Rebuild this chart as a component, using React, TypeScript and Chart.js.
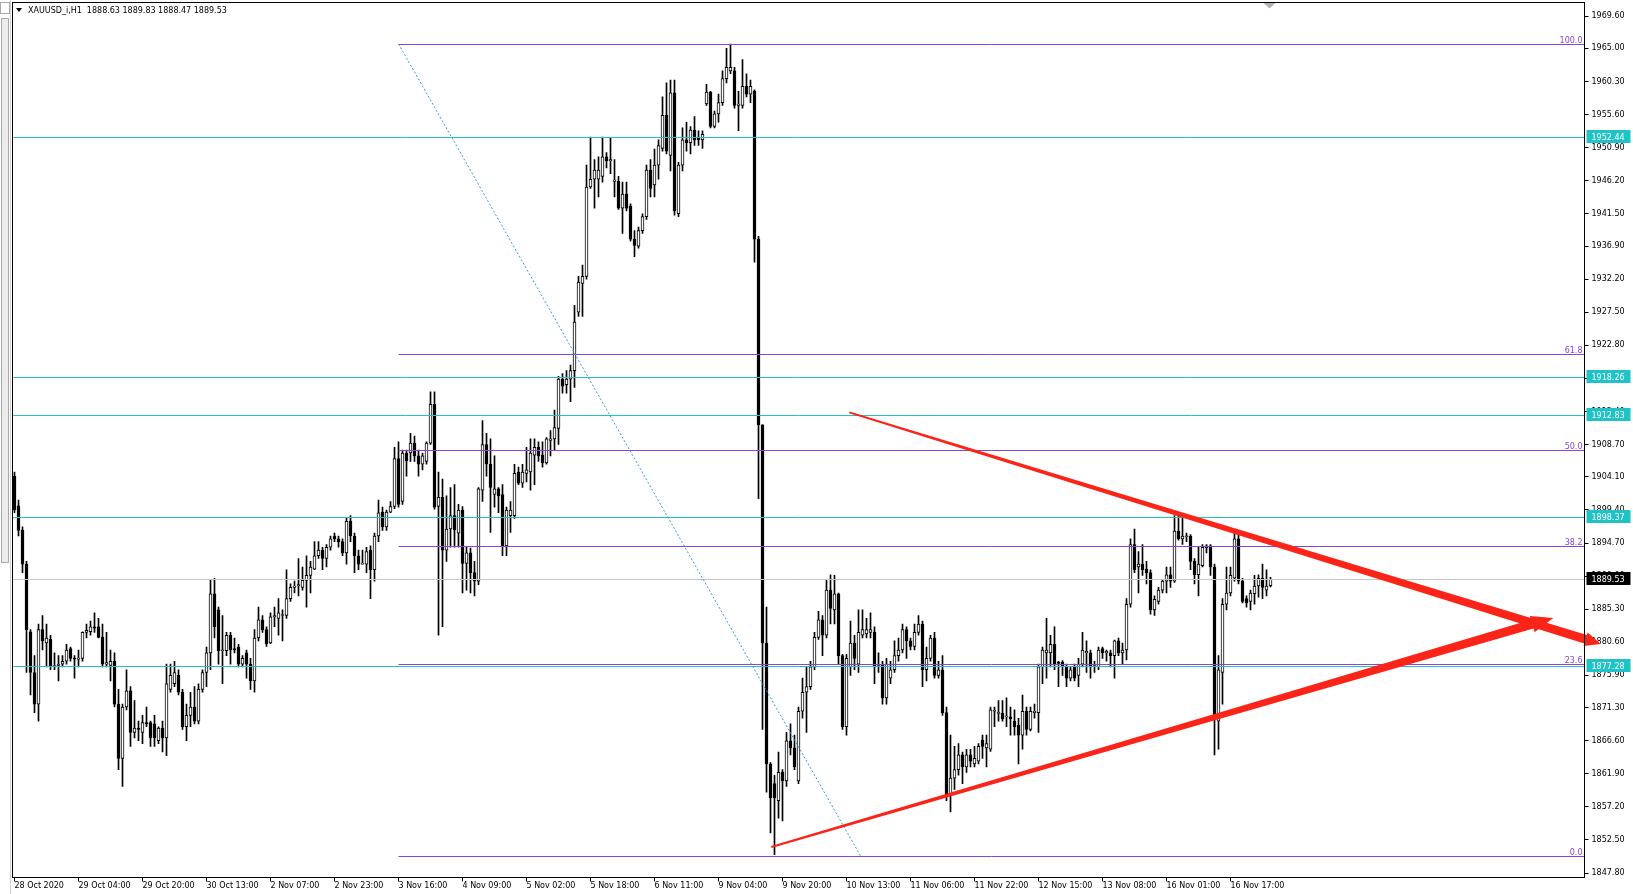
import React, { useEffect, useRef } from 'react';
import { Chart, registerables } from 'chart.js';

Chart.register(...registerables);

// ---- data ----
const SYMBOL = 'XAUUSD_i,H1';
const BARS_PER_LABEL = 16;
const SLOT_COUNT = 393;
const X_TICK_LABELS = [
  '28 Oct 2020', '29 Oct 04:00', '29 Oct 20:00', '30 Oct 13:00', '2 Nov 07:00', '2 Nov 23:00',
  '3 Nov 16:00', '4 Nov 09:00', '5 Nov 02:00', '5 Nov 18:00', '6 Nov 11:00', '9 Nov 04:00',
  '9 Nov 20:00', '10 Nov 13:00', '11 Nov 06:00', '11 Nov 22:00', '12 Nov 15:00', '13 Nov 08:00',
  '16 Nov 01:00', '16 Nov 17:00',
];
const Y_TICKS = [
  1969.6, 1965.0, 1960.3, 1955.6, 1950.9, 1946.2, 1941.5, 1936.9, 1932.2, 1927.5, 1922.8, 1918.1,
  1913.4, 1908.7, 1904.1, 1899.4, 1894.7, 1890.0, 1885.3, 1880.6, 1875.9, 1871.3, 1866.6, 1861.9,
  1857.2, 1852.5, 1847.8,
];
const Y_MIN = 1847.17;
const Y_MAX = 1971.52;

// [open, high, low, close] per hourly bar
const CANDLES: [number, number, number, number][] = [
  [1904.2,1904.8,1899.0,1899.4],[1900.0,1900.8,1895.7,1896.5],[1896.5,1897.0,1890.5,1891.7],[1891.7,1892.1,1876.3,1882.4],
  [1882.1,1882.4,1873.1,1876.3],[1876.3,1878.7,1870.6,1871.8],[1871.8,1883.2,1869.4,1882.4],[1882.4,1884.4,1879.5,1880.8],
  [1880.5,1883.2,1877.1,1881.2],[1881.0,1881.6,1876.7,1877.1],[1877.1,1879.1,1876.7,1877.3],[1877.3,1878.7,1875.1,1877.5],
  [1877.5,1878.7,1877.1,1877.9],[1877.9,1880.3,1877.5,1879.5],[1879.7,1879.9,1877.9,1878.3],[1878.3,1878.7,1875.5,1878.2],
  [1878.2,1879.5,1877.1,1878.3],[1878.3,1882.1,1877.9,1882.0],[1882.0,1883.2,1881.2,1882.3],[1882.1,1883.6,1881.6,1882.8],
  [1882.8,1884.8,1882.0,1882.6],[1882.8,1884.0,1881.2,1881.3],[1881.3,1883.2,1877.1,1877.5],[1877.5,1882.0,1877.1,1877.7],
  [1877.3,1879.5,1875.1,1877.9],[1877.9,1879.1,1871.4,1871.8],[1871.8,1873.9,1862.5,1864.1],[1864.1,1871.8,1860.1,1871.4],
  [1871.4,1876.7,1871.0,1873.7],[1873.7,1874.3,1865.8,1867.8],[1867.8,1872.3,1867.0,1868.4],[1868.4,1869.4,1866.6,1868.2],
  [1867.8,1870.2,1866.2,1869.2],[1869.2,1871.4,1868.6,1869.0],[1869.2,1869.4,1865.8,1867.0],[1869.0,1870.2,1865.8,1867.0],
  [1866.6,1868.6,1866.2,1868.4],[1868.4,1869.4,1865.0,1867.0],[1867.0,1877.5,1864.5,1874.7],[1873.9,1877.5,1873.5,1875.9],
  [1874.7,1877.9,1874.3,1876.3],[1875.9,1876.7,1873.1,1873.5],[1873.5,1873.9,1868.2,1868.6],[1868.6,1871.8,1866.6,1870.2],
  [1870.2,1873.5,1868.6,1871.4],[1871.4,1874.3,1869.0,1869.4],[1869.4,1874.7,1869.0,1873.9],[1873.9,1876.7,1873.5,1876.3],
  [1876.3,1879.9,1874.3,1879.1],[1879.1,1889.4,1876.7,1887.5],[1887.5,1889.7,1881.2,1882.8],[1885.2,1885.6,1877.5,1879.4],
  [1879.4,1884.4,1874.7,1879.5],[1879.4,1882.0,1878.7,1881.6],[1881.6,1882.0,1877.5,1879.5],[1879.7,1881.2,1879.1,1879.5],
  [1879.9,1880.3,1877.1,1877.5],[1877.5,1878.7,1877.1,1878.3],[1879.1,1879.5,1875.5,1877.5],[1877.5,1878.3,1873.9,1875.1],
  [1875.1,1882.4,1873.5,1881.2],[1881.2,1885.6,1880.8,1883.8],[1883.8,1884.4,1882.0,1882.4],[1882.4,1882.8,1880.0,1880.4],
  [1880.5,1884.8,1880.4,1884.2],[1884.2,1885.6,1882.8,1884.4],[1884.0,1886.8,1881.6,1884.8],[1884.4,1885.2,1880.8,1884.5],
  [1884.4,1890.9,1884.0,1886.8],[1886.8,1888.9,1886.4,1888.4],[1888.4,1889.3,1887.6,1888.6],[1888.6,1892.5,1887.2,1888.8],
  [1888.4,1891.3,1888.0,1889.4],[1889.4,1892.9,1885.6,1890.1],[1890.1,1892.1,1887.6,1891.3],[1891.0,1894.9,1890.9,1892.9],
  [1892.9,1894.9,1892.5,1893.7],[1893.7,1894.1,1890.9,1892.5],[1892.5,1894.5,1891.3,1894.1],[1894.1,1895.7,1893.7,1895.3],
  [1895.7,1896.1,1894.9,1895.3],[1895.3,1895.7,1894.1,1894.9],[1894.9,1895.3,1892.9,1893.3],[1893.3,1898.2,1891.7,1897.8],
  [1897.8,1898.6,1894.9,1895.7],[1895.7,1896.1,1890.5,1892.9],[1892.9,1893.7,1890.9,1891.7],[1891.7,1893.7,1891.7,1891.8],
  [1891.7,1894.1,1890.5,1893.5],[1893.7,1894.3,1886.8,1890.9],[1890.9,1896.1,1889.3,1895.7],[1895.7,1900.8,1894.9,1899.0],
  [1899.1,1899.8,1896.5,1897.0],[1897.0,1899.4,1896.5,1899.1],[1899.1,1900.6,1899.0,1899.9],[1899.9,1908.3,1899.6,1906.7],
  [1906.7,1909.1,1899.8,1900.2],[1900.6,1907.9,1900.2,1907.5],[1907.5,1907.9,1904.2,1906.4],[1907.5,1910.3,1906.3,1908.9],
  [1908.9,1909.9,1906.3,1907.1],[1907.1,1907.9,1904.2,1905.9],[1905.9,1907.5,1905.1,1907.1],[1906.3,1909.1,1905.9,1908.9],
  [1908.9,1916.2,1908.7,1914.4],[1914.4,1916.2,1899.5,1899.8],[1899.9,1904.8,1881.6,1901.2],[1901.2,1903.8,1882.8,1893.7],
  [1893.7,1901.4,1892.1,1896.7],[1896.7,1902.6,1894.1,1898.6],[1898.6,1903.0,1894.1,1896.6],[1896.1,1900.2,1894.1,1899.4],
  [1899.4,1899.9,1887.6,1891.8],[1891.8,1894.1,1888.0,1893.3],[1893.3,1894.0,1887.6,1890.5],[1890.5,1892.1,1887.2,1889.3],
  [1889.3,1902.6,1888.8,1902.4],[1902.2,1912.1,1900.6,1908.7],[1908.7,1910.3,1904.2,1905.9],[1905.9,1909.5,1896.2,1902.6],
  [1901.6,1907.1,1899.8,1902.4],[1902.4,1902.6,1899.0,1901.4],[1901.6,1903.0,1892.9,1894.3],[1894.3,1899.8,1892.9,1899.4],
  [1898.6,1900.6,1896.2,1899.4],[1898.6,1905.9,1898.2,1904.6],[1904.8,1905.5,1903.0,1903.2],[1903.2,1905.9,1902.6,1904.8],
  [1904.6,1908.3,1903.4,1905.1],[1904.8,1909.5,1902.2,1907.5],[1907.2,1909.5,1903.0,1908.3],[1908.3,1909.1,1906.3,1907.1],
  [1907.2,1909.1,1905.5,1906.1],[1906.1,1909.7,1905.9,1909.5],[1909.3,1910.7,1907.1,1909.5],[1909.5,1913.6,1907.9,1911.1],
  [1911.0,1918.4,1908.7,1918.0],[1918.0,1918.8,1916.0,1917.0],[1917.2,1919.2,1916.0,1918.0],[1918.0,1920.0,1914.8,1919.2],
  [1919.2,1928.5,1916.8,1926.1],[1927.5,1932.6,1926.9,1931.8],[1931.6,1934.2,1926.9,1932.6],[1932.6,1948.4,1932.2,1945.3],
  [1945.3,1952.4,1945.1,1946.4],[1946.4,1949.2,1942.3,1947.7],[1946.4,1949.6,1943.9,1947.7],[1946.8,1952.4,1946.0,1949.6],
  [1949.6,1950.2,1948.0,1949.0],[1949.0,1952.3,1947.2,1949.2],[1946.1,1949.2,1943.9,1946.3],[1946.1,1946.8,1942.1,1942.3],
  [1942.3,1946.0,1938.7,1944.3],[1944.3,1946.0,1941.9,1942.3],[1942.6,1942.9,1937.6,1937.9],[1937.9,1939.1,1935.4,1937.0],
  [1936.9,1939.6,1936.6,1939.1],[1939.1,1941.5,1938.7,1941.1],[1941.1,1948.4,1940.7,1947.7],[1947.7,1949.2,1943.9,1945.1],
  [1945.6,1950.7,1943.9,1948.4],[1948.4,1952.0,1946.4,1951.2],[1950.8,1958.1,1950.4,1955.5],[1955.5,1960.1,1950.0,1950.4],
  [1949.8,1960.5,1947.6,1958.7],[1958.7,1960.5,1941.3,1941.9],[1941.5,1948.8,1941.1,1948.4],[1948.4,1953.7,1947.6,1952.0],
  [1952.0,1954.5,1950.4,1951.6],[1951.6,1953.9,1950.0,1953.4],[1953.4,1955.3,1951.2,1952.0],[1952.4,1953.3,1951.2,1952.0],
  [1952.0,1953.3,1950.8,1952.8],[1957.1,1959.9,1956.9,1958.8],[1958.8,1958.9,1953.7,1953.9],[1953.9,1956.1,1953.7,1955.7],
  [1955.7,1958.5,1954.5,1957.3],[1957.3,1961.8,1956.9,1960.7],[1960.7,1965.0,1960.1,1962.3],[1961.8,1965.6,1961.4,1962.3],
  [1961.8,1962.3,1956.5,1956.9],[1956.9,1958.9,1953.3,1957.1],[1956.9,1963.4,1956.5,1959.6],[1959.6,1961.4,1958.1,1958.5],
  [1958.5,1960.5,1957.3,1959.6],[1958.9,1959.1,1934.6,1937.9],[1937.9,1938.3,1901.0,1911.5],[1911.5,1911.5,1868.2,1880.5],
  [1880.5,1885.6,1859.3,1863.3],[1863.3,1863.5,1853.5,1858.5],[1860.5,1861.7,1850.4,1858.5],[1858.1,1865.0,1855.6,1862.1],
  [1862.1,1862.5,1855.2,1860.9],[1860.9,1867.8,1860.1,1866.6],[1866.6,1869.0,1864.6,1865.6],[1865.6,1867.4,1862.5,1862.9],
  [1860.9,1871.4,1860.5,1870.8],[1870.8,1875.5,1869.8,1873.5],[1873.5,1877.1,1867.8,1874.3],[1874.3,1877.9,1873.9,1877.1],
  [1877.1,1882.0,1876.7,1881.3],[1881.3,1885.0,1881.0,1883.8],[1883.8,1884.4,1878.7,1881.6],[1881.6,1889.4,1881.2,1888.0],
  [1888.0,1890.2,1883.2,1885.4],[1885.2,1890.1,1883.2,1887.5],[1887.5,1887.6,1877.5,1878.7],[1878.7,1878.9,1868.2,1868.6],
  [1868.6,1878.9,1867.4,1878.3],[1877.1,1883.6,1875.9,1880.5],[1880.5,1881.6,1876.7,1878.3],[1877.5,1885.2,1876.3,1882.0],
  [1881.6,1885.2,1881.2,1882.4],[1881.8,1884.0,1881.2,1882.4],[1882.0,1884.8,1881.2,1882.4],[1882.0,1882.8,1874.7,1877.1],
  [1877.1,1879.1,1876.3,1877.3],[1877.5,1877.9,1871.8,1872.7],[1872.7,1878.3,1871.8,1877.5],[1875.5,1877.9,1874.7,1876.7],
  [1876.7,1880.8,1876.3,1878.7],[1878.7,1881.2,1877.9,1879.5],[1879.5,1883.2,1879.1,1882.4],[1882.4,1882.8,1878.3,1880.8],
  [1880.8,1881.2,1879.5,1880.0],[1880.0,1883.2,1879.5,1882.0],[1882.0,1884.4,1881.6,1883.2],[1883.2,1883.6,1874.3,1876.7],
  [1876.7,1879.9,1875.1,1878.3],[1878.3,1881.6,1877.9,1881.2],[1881.2,1882.0,1875.5,1875.9],[1875.9,1877.9,1875.5,1876.7],
  [1876.7,1878.7,1870.2,1870.6],[1870.6,1871.4,1858.1,1858.9],[1858.9,1867.4,1856.5,1861.3],[1861.3,1865.8,1859.7,1862.5],
  [1862.5,1866.2,1861.7,1864.6],[1864.6,1865.0,1860.5,1862.9],[1862.9,1865.4,1862.1,1864.6],[1864.6,1865.4,1862.9,1863.7],
  [1863.3,1865.8,1862.9,1864.1],[1863.7,1866.2,1863.3,1865.8],[1866.7,1867.4,1864.1,1865.8],[1865.6,1867.4,1862.9,1866.2],
  [1865.4,1871.4,1865.1,1871.0],[1870.8,1871.4,1868.6,1870.9],[1870.5,1872.3,1869.4,1870.6],[1870.5,1872.3,1869.4,1869.7],
  [1870.0,1872.7,1868.6,1870.1],[1870.0,1871.4,1867.4,1869.7],[1869.4,1871.0,1867.4,1868.6],[1868.8,1869.8,1863.3,1867.4],
  [1867.4,1873.1,1865.4,1870.8],[1870.8,1871.4,1867.4,1868.2],[1868.2,1871.4,1868.0,1870.8],[1870.6,1871.8,1869.8,1870.8],
  [1870.6,1877.5,1867.8,1877.1],[1877.1,1879.9,1874.7,1879.5],[1879.1,1884.0,1875.5,1879.5],[1879.1,1881.6,1877.1,1880.3],
  [1880.3,1882.8,1876.7,1877.5],[1877.8,1877.9,1874.3,1877.6],[1877.8,1878.0,1875.9,1877.1],[1877.1,1877.5,1874.3,1875.5],
  [1875.5,1877.1,1875.1,1876.7],[1877.1,1877.5,1875.1,1875.5],[1875.9,1878.3,1874.3,1877.5],[1877.5,1882.0,1877.1,1879.5],
  [1879.1,1880.8,1876.3,1879.3],[1879.1,1879.5,1875.5,1877.1],[1877.1,1877.9,1876.3,1877.3],[1877.1,1879.9,1876.7,1879.5],
  [1879.7,1879.9,1878.3,1879.1],[1879.1,1879.5,1877.9,1879.3],[1879.1,1879.5,1877.1,1878.7],[1878.7,1880.9,1875.5,1880.8],
  [1880.8,1881.2,1878.7,1879.1],[1879.1,1880.5,1877.5,1879.5],[1879.5,1886.8,1878.1,1886.0],[1886.0,1895.3,1885.6,1894.5],
  [1894.5,1896.7,1890.5,1890.9],[1891.3,1893.5,1887.6,1891.7],[1891.7,1894.5,1890.1,1890.9],[1891.0,1892.1,1888.9,1890.5],
  [1890.5,1890.9,1884.6,1885.2],[1885.2,1887.2,1884.4,1886.7],[1886.4,1888.4,1886.0,1888.0],[1888.0,1889.4,1887.6,1889.3],
  [1889.3,1891.3,1887.6,1890.2],[1890.2,1891.3,1888.4,1889.3],[1889.3,1898.6,1889.1,1896.4],[1896.4,1898.6,1895.1,1895.3],
  [1895.3,1898.2,1894.5,1895.7],[1895.6,1896.1,1894.9,1895.7],[1895.7,1895.9,1890.9,1892.1],[1892.1,1892.5,1888.9,1890.2],
  [1890.2,1894.1,1887.2,1891.7],[1891.5,1894.5,1891.3,1894.1],[1894.0,1894.5,1893.3,1894.3],[1894.3,1894.5,1890.1,1891.3],
  [1891.3,1891.7,1864.6,1869.8],[1869.4,1878.7,1865.4,1876.7],[1876.3,1886.8,1871.8,1886.0],[1886.0,1891.3,1885.2,1887.6],
  [1887.6,1891.3,1887.2,1890.1],[1889.7,1896.1,1889.3,1895.3],[1895.3,1895.9,1888.9,1889.3],[1889.3,1889.7,1886.2,1886.4],
  [1886.8,1887.2,1885.6,1886.2],[1886.4,1888.0,1885.2,1887.6],[1887.5,1890.1,1886.0,1888.6],[1888.6,1890.2,1887.0,1889.7],
  [1889.7,1891.7,1886.8,1888.4],[1888.0,1890.9,1887.2,1888.6],[1888.63,1889.83,1888.47,1889.53],
];

// horizontal levels (cyan) and current bid
const H_LEVELS = [1952.44, 1918.26, 1912.83, 1898.37, 1877.28];
const BID = 1889.53;

// Fibonacci retracement (anchors: bar index, price)
const FIB_LEVELS = [0, 23.6, 38.2, 50, 61.8, 100];
const FIB_HIGH = 1965.64;
const FIB_LOW = 1850.25;
const FIB_FROM_BAR = 96;
const FIB_TO_BAR = 211.5;

// Hand-drawn red trend lines: [bar index, price] start / end
const TREND_UPPER: [number, number][] = [[208.7, 1913.27], [396.6, 1880.35]];
const TREND_LOWER: [number, number][] = [[189.2, 1851.5], [384.7, 1884.05]];

// ---- styles ----
const FONT = '"DejaVu Sans", sans-serif';
const CYAN = '#1fc3c6';
const FIB_COLOR = '#8a45cc';
const RED = '#fb2418';

function taper(ctx: CanvasRenderingContext2D, x0: number, y0: number, x1: number, y1: number,
  w0: number, w1: number, headLen: number, headW: number) {
  const dx = x1 - x0, dy = y1 - y0;
  const len = Math.hypot(dx, dy);
  const ux = dx / len, uy = dy / len;
  const nx = -uy, ny = ux;
  const bx = x1 - ux * headLen, by = y1 - uy * headLen;
  ctx.beginPath();
  ctx.moveTo(x0 + nx * w0 / 2, y0 + ny * w0 / 2);
  ctx.lineTo(bx + nx * w1 / 2, by + ny * w1 / 2);
  ctx.lineTo(bx + nx * headW / 2, by + ny * headW / 2);
  ctx.lineTo(x1, y1);
  ctx.lineTo(bx - nx * headW / 2, by - ny * headW / 2);
  ctx.lineTo(bx - nx * w1 / 2, by - ny * w1 / 2);
  ctx.lineTo(x0 - nx * w0 / 2, y0 - ny * w0 / 2);
  ctx.closePath();
  ctx.fill();
}

const overlayPlugin = {
  id: 'mt4overlay',
  afterDraw(chart: any) {
    const ctx: CanvasRenderingContext2D = chart.ctx;
    const { left, right, top, bottom } = chart.chartArea;
    const xs = chart.scales.x;
    const ys = chart.scales.y;
    const px = (i: number) => xs.getPixelForValue(i);
    const py = (v: number) => Math.round(ys.getPixelForValue(v)) + 0.5;
    ctx.save();
    ctx.lineWidth = 1;

    // left window strip
    ctx.fillStyle = '#ececec';
    ctx.fillRect(1, 18, 8, 545);
    ctx.strokeStyle = '#a8a8a8';
    ctx.strokeRect(1.5, 18.5, 7, 544);
    ctx.strokeRect(0.5, 2.5, 9, 11);
    ctx.beginPath();
    ctx.moveTo(10.5, 0); ctx.lineTo(10.5, 894);
    ctx.strokeStyle = '#d0d0d0';
    ctx.stroke();

    // bid line
    ctx.strokeStyle = '#c4c4c4';
    ctx.beginPath(); ctx.moveTo(left, py(BID)); ctx.lineTo(right, py(BID)); ctx.stroke();

    // cyan horizontal levels
    ctx.strokeStyle = CYAN;
    H_LEVELS.forEach((v) => {
      ctx.beginPath(); ctx.moveTo(left, py(v)); ctx.lineTo(right, py(v)); ctx.stroke();
    });

    // fibonacci levels
    const fx = px(FIB_FROM_BAR);
    ctx.strokeStyle = FIB_COLOR;
    ctx.fillStyle = FIB_COLOR;
    ctx.font = `8px ${FONT}`;
    ctx.textAlign = 'right';
    ctx.textBaseline = 'alphabetic';
    FIB_LEVELS.forEach((lv) => {
      const v = FIB_LOW + (FIB_HIGH - FIB_LOW) * lv / 100;
      const y = py(v);
      ctx.beginPath(); ctx.moveTo(fx, y); ctx.lineTo(right, y); ctx.stroke();
      ctx.fillText(lv.toFixed(1), right - 2, y - 2);
    });

    // fib trend (dotted)
    ctx.strokeStyle = '#2c9ee0';
    ctx.setLineDash([2, 2]);
    ctx.beginPath();
    ctx.moveTo(fx, ys.getPixelForValue(FIB_HIGH));
    ctx.lineTo(px(FIB_TO_BAR), ys.getPixelForValue(FIB_LOW));
    ctx.stroke();
    ctx.setLineDash([]);

    // red trend lines
    ctx.fillStyle = RED;
    const drawTrend = (t: [number, number][], w0: number, w1: number, hl: number, hw: number) => {
      taper(ctx, px(t[0][0]), ys.getPixelForValue(t[0][1]), px(t[1][0]), ys.getPixelForValue(t[1][1]), w0, w1, hl, hw);
    };
    drawTrend(TREND_UPPER, 2, 9, 16, 14);
    drawTrend(TREND_LOWER, 2, 9, 22, 17);

    // frame
    ctx.strokeStyle = '#000';
    ctx.strokeRect(left, top, right - left, bottom - top);

    // chart shift marker
    ctx.fillStyle = '#b4b4b4';
    const sx = px(CANDLES.length - 1) - 1;
    ctx.beginPath(); ctx.moveTo(sx - 6, top + 0.5); ctx.lineTo(sx + 6, top + 0.5); ctx.lineTo(sx, top + 6); ctx.closePath(); ctx.fill();

    // price boxes on the axis
    ctx.font = `8px ${FONT}`;
    ctx.textAlign = 'left';
    ctx.textBaseline = 'middle';
    const box = (v: number, bg: string) => {
      const y = Math.round(ys.getPixelForValue(v));
      ctx.fillStyle = bg;
      ctx.fillRect(right + 2, y - 7, 44, 13);
      ctx.fillStyle = '#fff';
      ctx.fillText(v.toFixed(2), right + 7, y + 0.5);
    };
    H_LEVELS.forEach((v) => box(v, CYAN));
    box(BID, '#000');

    // header
    const last = CANDLES[CANDLES.length - 1];
    ctx.fillStyle = '#000';
    ctx.beginPath(); ctx.moveTo(16, 8); ctx.lineTo(22, 8); ctx.lineTo(19, 12); ctx.closePath(); ctx.fill();
    ctx.font = `8px ${FONT}`;
    ctx.textBaseline = 'middle';
    ctx.fillText(`${SYMBOL}  ${last.map((n) => n.toFixed(2)).join(' ')}`, 28, 10.5);

    ctx.restore();
  },
};

export default function App() {
  const ref = useRef<HTMLCanvasElement | null>(null);

  useEffect(() => {
    document.body.style.margin = '0';
    document.body.style.background = '#fff';
    const canvas = ref.current;
    if (!canvas) return;

    const labels = Array.from({ length: SLOT_COUNT }, (_, i) =>
      i % BARS_PER_LABEL === 0 && i / BARS_PER_LABEL < X_TICK_LABELS.length ? X_TICK_LABELS[i / BARS_PER_LABEL] : '');
    const wicks = CANDLES.map(([, h, l]) => [l, h]);
    const bodies = CANDLES.map(([o, , , c]) => [o, c]);
    const fills = CANDLES.map(([o, , , c]) => (c >= o ? '#ffffff' : '#000000'));

    const chart = new Chart(canvas, {
      type: 'bar',
      data: {
        labels,
        datasets: [
          {
            data: wicks as any,
            backgroundColor: '#000',
            borderWidth: 0,
            grouped: false,
            categoryPercentage: 1,
            barPercentage: 1,
            maxBarThickness: 1,
            order: 2,
          },
          {
            data: bodies as any,
            backgroundColor: fills,
            borderColor: '#000',
            borderWidth: 1,
            borderSkipped: false,
            grouped: false,
            categoryPercentage: 1,
            barPercentage: 1,
            maxBarThickness: 3,
            minBarLength: 1,
            order: 1,
          },
        ],
      },
      options: {
        animation: false,
        responsive: false,
        maintainAspectRatio: false,
        devicePixelRatio: 1,
        events: [],
        layout: { padding: { left: 12.5, top: 2.5, right: 0, bottom: 0 } },
        plugins: { legend: { display: false }, tooltip: { enabled: false }, title: { display: false } },
        scales: {
          x: {
            type: 'category',
            offset: true,
            border: { display: false },
            grid: {
              offset: false,
              drawOnChartArea: false,
              drawTicks: true,
              tickLength: 4,
              color: (c: any) => (c.tick && c.tick.label ? '#000' : 'rgba(0,0,0,0)'),
            },
            ticks: {
              autoSkip: false,
              maxRotation: 0,
              minRotation: 0,
              align: 'start',
              padding: 0,
              color: '#000',
              font: { family: FONT, size: 8 },
              callback: (_v: any, i: number) => labels[i],
            },
            afterFit: (s: any) => { s.height = 16.5; s.paddingLeft = 0; s.paddingRight = 0; },
          },
          y: {
            position: 'right',
            min: Y_MIN,
            max: Y_MAX,
            border: { display: false },
            grid: { drawOnChartArea: false, drawTicks: true, tickLength: 4, color: '#000' },
            afterBuildTicks: (s: any) => { s.ticks = Y_TICKS.map((value) => ({ value })); },
            ticks: {
              padding: 3,
              color: '#000',
              crossAlign: 'near',
              font: { family: FONT, size: 8 },
              callback: (v: any) => Number(v).toFixed(2),
            },
            afterFit: (s: any) => { s.width = 48.5; s.paddingTop = 0; s.paddingBottom = 0; },
          },
        },
      } as any,
      plugins: [overlayPlugin],
    });
    return () => chart.destroy();
  }, []);

  return (
    <div style={{ width: 1633, height: 894, background: '#fff' }}>
      <canvas ref={ref} width={1633} height={894} style={{ display: 'block', width: 1633, height: 894 }} />
    </div>
  );
}
